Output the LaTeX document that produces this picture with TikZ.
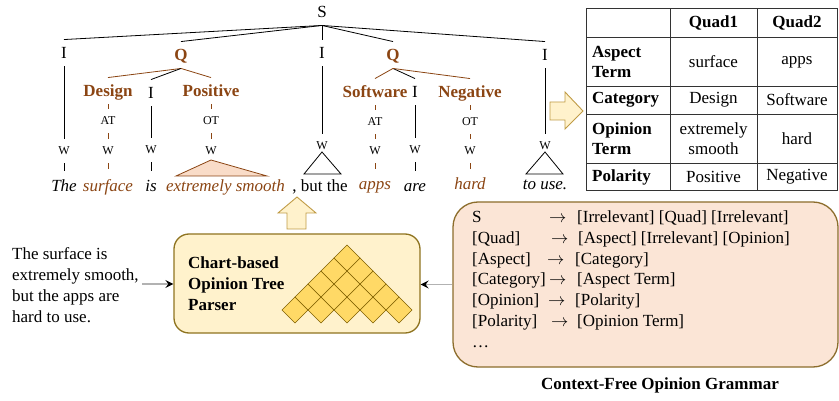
\documentclass[tikz,border=0pt]{standalone}
\usepackage{fontspec}
\setmainfont{Liberation Serif}
\usetikzlibrary{arrows.meta,calc}
\definecolor{brn}{HTML}{8B4513}
\definecolor{peach}{HTML}{F9DCC8}
\definecolor{gfill}{HTML}{FBE5D6}
\definecolor{gdraw}{HTML}{8C6D2C}
\definecolor{yfill}{HTML}{FFF2CC}
\definecolor{ydraw}{HTML}{8F7420}
\definecolor{afdraw}{HTML}{C09B45}
\definecolor{cellf}{HTML}{FFD966}
\definecolor{celld}{HTML}{7F6000}
\definecolor{tabline}{HTML}{333333}
\begin{document}
\begin{tikzpicture}[x=1pt,y=-1pt,
 big/.style={font=\fontsize{17}{20}\selectfont, text height=11.5pt, text depth=0pt, inner xsep=1pt, inner ysep=7.5pt},
 cat/.style={font=\fontsize{17}{20}\selectfont\bfseries, text=brn, text height=11.5pt, text depth=0pt, inner xsep=1pt, inner ysep=7.5pt},
 sm/.style={font=\fontsize{12}{14}\selectfont, text height=8pt, text depth=0pt, inner xsep=1pt, inner ysep=8pt},
 word/.style={font=\fontsize{17}{20}\selectfont\itshape, text height=11.5pt, text depth=0pt, inner xsep=1pt, inner ysep=9pt},
 bword/.style={word, text=brn},
 tl/.style={line width=0.8pt, black},
 bl/.style={line width=0.8pt, brn},
 dl/.style={line width=0.8pt, brn, dash pattern=on 6pt off 3pt},
 blockarrow/.style={draw=afdraw, fill=yfill, line width=0.9pt, line join=miter},
 cell/.style={draw=celld, fill=cellf, line width=0.7pt},
 garr/.style={draw=gray!60, line width=1.2pt, -{Stealth[color=black, length=8pt, width=8pt, inset=3pt]}},
 txt/.style={font=\fontsize{17}{21}\selectfont, inner sep=1pt},
 tb/.style={font=\fontsize{17}{20}\selectfont, inner sep=1pt, align=center},
 tbb/.style={font=\fontsize{17}{20}\selectfont\bfseries, inner sep=1pt, align=left},
 gline/.style={font=\fontsize{17}{21}\selectfont, inner sep=0pt, anchor=base west},
]
\useasboundingbox (0,0) rectangle (839,401);

% ---------------- tree ----------------
\node[big] (S) at (322,12) {S};
\node[big] (I1) at (64,53) {I};
\node[cat] (Q1) at (181,55) {Q};
\node[big] (I2) at (322,53) {I};
\node[cat] (Q2) at (393,55) {Q};
\node[big] (I3) at (545,55) {I};

\foreach \n in {I1,Q1,I2,Q2,I3} \draw[tl] (S.south) -- (\n.north);

\node[cat] (D) at (108,91) {Design};
\node[big] (I4) at (151,93) {I};
\node[cat] (P) at (211,91) {Positive};
\node[cat] (Sw) at (375,92) {Software};
\node[big] (I5) at (415,92) {I};
\node[cat] (N) at (470,92) {Negative};

\draw[bl] (Q1.south) -- (D.north);
\draw[tl] (Q1.south) -- (I4.north);
\draw[bl] (Q1.south) -- (P.north);
\draw[bl] (Q2.south) -- (Sw.north);
\draw[tl] (Q2.south) -- (I5.north);
\draw[bl] (Q2.south) -- (N.north);

\node[sm] (AT1) at (108,121) {AT};
\node[sm] (OT1) at (211,121) {OT};
\node[sm] (AT2) at (375,122) {AT};
\node[sm] (OT2) at (470,122) {OT};

\node[sm] (W1) at (64,151) {W};
\node[sm] (W2) at (108,151) {W};
\node[sm] (W3) at (151,150) {W};
\node[sm] (W4) at (211,151) {W};
\node[sm] (W5) at (322,146) {W};
\node[sm] (W6) at (375,151) {W};
\node[sm] (W7) at (415,150) {W};
\node[sm] (W8) at (470,151) {W};
\node[sm] (W9) at (545,146) {W};

\node[word] (wThe) at (64,186.25) {The};
\node[bword] (wsurf) at (108,186.25) {surface};
\node[word] (wis) at (151,186.25) {is};
\node[bword] (wsmooth) at (225.5,186.25) {extremely smooth};
\node[word, font=\fontsize{17}{20}\selectfont] (wbut) at (320,186.25) {, but the};
\node[bword] (wapps) at (375,184.25) {apps};
\node[word] (ware) at (415,186.25) {are};
\node[bword] (whard) at (470,184.25) {hard};
\node[word] (wuse) at (545,183.75) {to use.};

% verticals
\draw[tl] (I1) -- (W1);
\draw[tl] (W1) -- (wThe);
\draw[dl] (D) -- (AT1);
\draw[dl] (AT1) -- (W2);
\draw[dl] (W2) -- (wsurf);
\draw[tl] (I4) -- (W3);
\draw[tl] (W3) -- (wis);
\draw[dl] (P) -- (OT1);
\draw[dl] (OT1) -- (W4);
\draw[tl] (I2) -- (W5);
\draw[dl] (Sw) -- (AT2);
\draw[dl] (AT2) -- (W6);
\draw[dl] (W6) -- (wapps);
\draw[tl] (I5) -- (W7);
\draw[tl] (W7) -- (ware);
\draw[dl] (N) -- (OT2);
\draw[dl] (OT2) -- (W8);
\draw[dl] (W8) -- (whard);
\draw[tl] (I3) -- (W9);

% triangles
\draw[bl, fill=peach, line join=miter] ($(W4)+(0,9)$) -- ++(-35,16) -- ++(91,0) -- cycle;
\draw[tl, line join=miter] ($(W5)+(0,6)$) -- ++(-18,22) -- ++(37,0) -- cycle;
\draw[tl, line join=miter] ($(W9)+(0,6)$) -- ++(-19,22) -- ++(37,0) -- cycle;

% ---------------- block arrows ----------------
\draw[blockarrow] (550,102) -- (565,102) -- (565,92) -- (583,111) -- (565,129) -- (565,120) -- (550,120) -- cycle;
\draw[blockarrow] (287,229) -- (287,213) -- (278,213) -- (297,197) -- (316,213) -- (306,213) -- (306,229) -- cycle;

% ---------------- table ----------------
\draw[tabline, line width=1pt] (586,9) rectangle (837,191);
\foreach \yy in {37,86,114,163} \draw[tabline, line width=0.8pt] (586,\yy) -- (837,\yy);
\foreach \xx in {670,757} \draw[tabline, line width=0.8pt] (\xx,9) -- (\xx,191);

\node[tbb] (hq1) at (713.5,23) {Quad1};
\node[tbb] (hq2) at (797,23) {Quad2};
\node[tbb, anchor=west] (ra) at (591,61.5) {Aspect\\Term};
\node[tbb, anchor=west] (rc) at (591,100) {Category};
\node[tbb, anchor=west] (ro) at (591,138.5) {Opinion\\Term};
\node[tbb, anchor=west] (rp) at (591,177) {Polarity};
\node[tb] (c11) at (713.5,62) {surface};
\node[tb] (c12) at (797,62) {apps};
\node[tb] (c21) at (713.5,100) {Design};
\node[tb] (c22) at (797,100) {Software};
\node[tb] (c31) at (713.5,138.5) {extremely\\smooth};
\node[tb] (c32) at (797,139) {hard};
\node[tb] (c41) at (713.5,177) {Positive};
\node[tb] (c42) at (797,177) {Negative};

% ---------------- parser ----------------
\node[draw=ydraw, fill=yfill, line width=1.3pt, rounded corners=15pt, minimum width=246pt, minimum height=99pt, inner sep=0pt] (parser) at (297,283.5) {};
\node[txt, font=\fontsize{17}{21}\selectfont\bfseries, anchor=west, align=left] (ptext) at (187,284) {Chart-based\\Opinion Tree\\Parser};
\foreach \k in {0,...,4} {
  \pgfmathtruncatemacro\nn{4-\k}
  \foreach \i in {0,...,\nn} {
    \pgfmathsetmacro\cx{295+13*\k+26*\i}
    \pgfmathsetmacro\cy{310-13*\k}
    \draw[cell] ({\cx},{\cy-13}) -- ({\cx+13},{\cy}) -- ({\cx},{\cy+13}) -- ({\cx-13},{\cy}) -- cycle;
  }
}

% ---------------- input ----------------
\node[txt, anchor=west, align=left] (input) at (11,285) {The surface is\\extremely smooth,\\but the apps are\\hard to use.};
\coordinate (ia) at ([xshift=2pt,yshift=1pt]input.east);
\draw[garr] (ia) -- (ia -| parser.west);

% ---------------- grammar ----------------
\node[draw=gdraw, fill=gfill, line width=1.3pt, rounded corners=25pt, minimum width=385pt, minimum height=165pt, inner sep=0pt] (grammar) at (645.5,284.5) {};
\draw[garr] (grammar.west) -- (grammar.west -| parser.east);

\node[gline] (g1l) at (472,223) {S};
\node[gline] (g1a) at (549,223) {$\rightarrow$};
\node[gline] (g1r) at (577,223) {[Irrelevant] [Quad] [Irrelevant]};
\node[gline] (g2l) at (472,243.6) {[Quad]};
\node[gline] (g2a) at (551,243.6) {$\rightarrow$};
\node[gline] (g2r) at (578,243.6) {[Aspect] [Irrelevant] [Opinion]};
\node[gline] (g3l) at (472,264.2) {[Aspect]};
\node[gline] (g3a) at (547,264.2) {$\rightarrow$};
\node[gline] (g3r) at (575,264.2) {[Category]};
\node[gline] (g4l) at (472,284.8) {[Category]};
\node[gline] (g4a) at (549,284.8) {$\rightarrow$};
\node[gline] (g4r) at (577,284.8) {[Aspect Term]};
\node[gline] (g5l) at (472,305.4) {[Opinion]};
\node[gline] (g5a) at (548,305.4) {$\rightarrow$};
\node[gline] (g5r) at (575,305.4) {[Polarity]};
\node[gline] (g6l) at (472,326) {[Polarity]};
\node[gline] (g6a) at (551,326) {$\rightarrow$};
\node[gline] (g6r) at (577,326) {[Opinion Term]};
\node[gline] (g7l) at (472,347) {…};

\node[font=\fontsize{17}{20}\selectfont\bfseries, inner sep=1pt] (cap) at (660,385) {Context-Free Opinion Grammar};
\end{tikzpicture}
\end{document}
